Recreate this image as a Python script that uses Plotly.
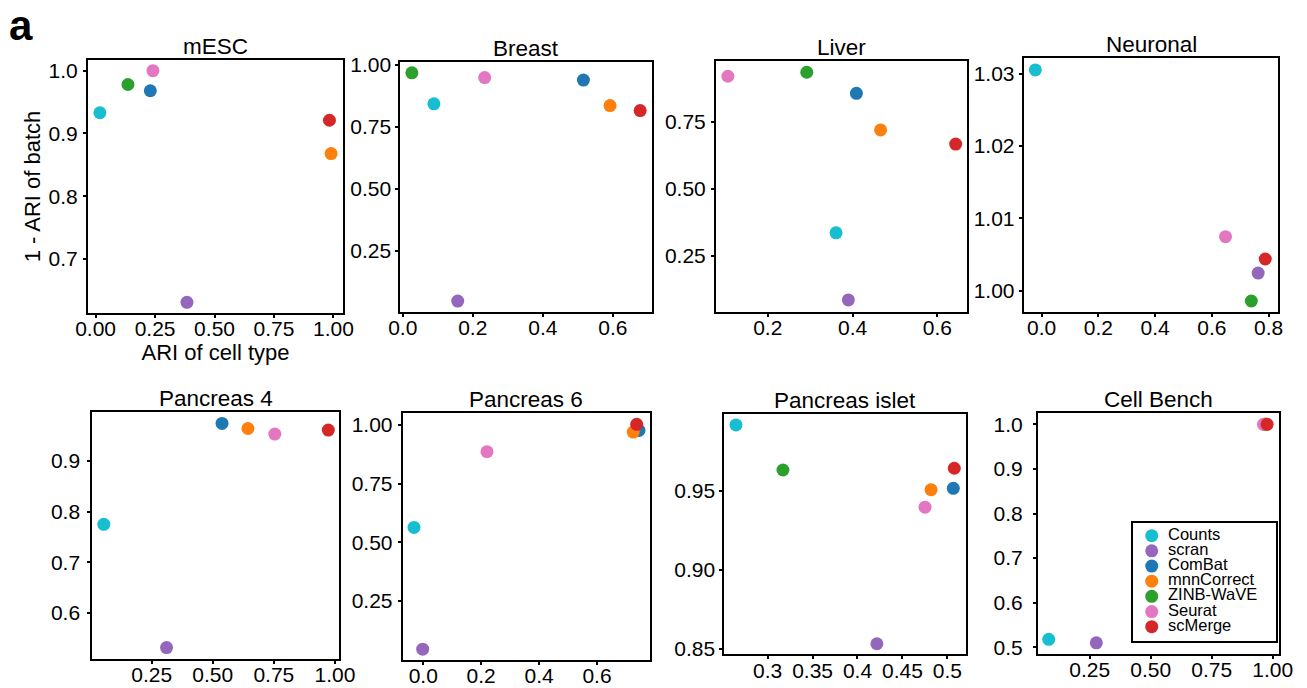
import plotly.graph_objects as go

# ---------------- data ----------------
methods = ["Counts", "scran", "ComBat", "mnnCorrect", "ZINB-WaVE", "Seurat", "scMerge"]
method_colors = ["#17becf", "#9467bd", "#1f77b4", "#ff7f0e", "#2ca02c", "#e377c2", "#d62728"]
datasets = ["mESC", "Breast", "Liver", "Neuronal", "Pancreas 4", "Pancreas 6", "Pancreas islet", "Cell Bench"]

# ARI of cell type (x) and 1 - ARI of batch (y), in method order
mesc_x = [0.018, 0.384, 0.230, 0.990, 0.136, 0.241, 0.983]
mesc_y = [0.933, 0.631, 0.968, 0.868, 0.978, 1.000, 0.921]
breast_x = [0.089, 0.157, 0.516, 0.592, 0.026, 0.234, 0.678]
breast_y = [0.842, 0.047, 0.938, 0.835, 0.967, 0.948, 0.815]
liver_x = [0.361, 0.390, 0.409, 0.466, 0.292, 0.106, 0.643]
liver_y = [0.335, 0.084, 0.857, 0.720, 0.936, 0.921, 0.667]
neuronal_x = [-0.022, 0.763, None, None, 0.739, 0.648, 0.788]
neuronal_y = [1.0305, 1.00244, None, None, 0.99858, 1.00746, 1.00438]
pancreas4_x = [0.054, 0.311, 0.538, 0.644, None, 0.754, 0.973]
pancreas4_y = [0.775, 0.532, 0.974, 0.964, None, 0.953, 0.961]
pancreas6_x = [-0.032, -0.002, 0.745, 0.725, None, 0.220, 0.737]
pancreas6_y = [0.563, 0.043, 0.977, 0.970, None, 0.886, 1.003]
islet_x = [0.2647, 0.4216, 0.5067, 0.4819, 0.317, 0.4752, 0.5078]
islet_y = [0.9919, 0.8531, 0.9517, 0.9508, 0.9633, 0.9397, 0.9644]
cellbench_x = [0.082, 0.277, 0.972, 0.970, 0.968, 0.962, 0.977]
cellbench_y = [0.518, 0.510, 1.000, 1.000, 1.000, 1.000, 1.000]

# tick labels
mesc_xticks = [0.0, 0.25, 0.5, 0.75, 1.0]
mesc_xlabels = ["0.00", "0.25", "0.50", "0.75", "1.00"]
mesc_yticks = [0.7, 0.8, 0.9, 1.0]
mesc_ylabels = ["0.7", "0.8", "0.9", "1.0"]
breast_xticks = [0.0, 0.2, 0.4, 0.6]
breast_xlabels = ["0.0", "0.2", "0.4", "0.6"]
breast_yticks = [0.25, 0.5, 0.75, 1.0]
breast_ylabels = ["0.25", "0.50", "0.75", "1.00"]
liver_xticks = [0.2, 0.4, 0.6]
liver_xlabels = ["0.2", "0.4", "0.6"]
liver_yticks = [0.25, 0.5, 0.75]
liver_ylabels = ["0.25", "0.50", "0.75"]
neuronal_xticks = [0.0, 0.2, 0.4, 0.6, 0.8]
neuronal_xlabels = ["0.0", "0.2", "0.4", "0.6", "0.8"]
neuronal_yticks = [1.00, 1.01, 1.02, 1.03]
neuronal_ylabels = ["1.00", "1.01", "1.02", "1.03"]
pancreas4_xticks = [0.25, 0.5, 0.75, 1.0]
pancreas4_xlabels = ["0.25", "0.50", "0.75", "1.00"]
pancreas4_yticks = [0.6, 0.7, 0.8, 0.9]
pancreas4_ylabels = ["0.6", "0.7", "0.8", "0.9"]
pancreas6_xticks = [0.0, 0.2, 0.4, 0.6]
pancreas6_xlabels = ["0.0", "0.2", "0.4", "0.6"]
pancreas6_yticks = [0.25, 0.5, 0.75, 1.0]
pancreas6_ylabels = ["0.25", "0.50", "0.75", "1.00"]
islet_xticks = [0.3, 0.35, 0.4, 0.45, 0.5]
islet_xlabels = ["0.3", "0.35", "0.4", "0.45", "0.5"]
islet_yticks = [0.85, 0.90, 0.95]
islet_ylabels = ["0.85", "0.90", "0.95"]
cellbench_xticks = [0.25, 0.5, 0.75, 1.0]
cellbench_xlabels = ["0.25", "0.50", "0.75", "1.00"]
cellbench_yticks = [0.5, 0.6, 0.7, 0.8, 0.9, 1.0]
cellbench_ylabels = ["0.5", "0.6", "0.7", "0.8", "0.9", "1.0"]

x_title = "ARI of cell type"
y_title = "1 - ARI of batch"
panel_label = "a"

# ---------------- layout ----------------
W, H = 1307, 688
FONT = "Liberation Sans, Arial, sans-serif"

panels = [
    dict(x=mesc_x, y=mesc_y, xt=mesc_xticks, xl=mesc_xlabels, yt=mesc_yticks, yl=mesc_ylabels,
         box=(88, 343, 60, 313), xr=[-0.032, 1.04], yr=[0.614, 1.017], ygap=1),
    dict(x=breast_x, y=breast_y, xt=breast_xticks, xl=breast_xlabels, yt=breast_yticks, yl=breast_ylabels,
         box=(400.3, 651.7, 61.7, 311.7), xr=[-0.007, 0.711], yr=[0.004, 1.012], ygap=0),
    dict(x=liver_x, y=liver_y, xt=liver_xticks, xl=liver_xlabels, yt=liver_yticks, yl=liver_ylabels,
         box=(716, 966.7, 61, 311.7), xr=[0.078, 0.669], yr=[0.040, 0.978], ygap=1),
    dict(x=neuronal_x, y=neuronal_y, xt=neuronal_xticks, xl=neuronal_xlabels, yt=neuronal_yticks, yl=neuronal_ylabels,
         box=(1023.7, 1278.3, 58.3, 311.7), xr=[-0.063, 0.834], yr=[0.9971, 1.0321], ygap=0),
    dict(x=pancreas4_x, y=pancreas4_y, xt=pancreas4_xticks, xl=pancreas4_xlabels, yt=pancreas4_yticks, yl=pancreas4_ylabels,
         box=(92.3, 339.3, 412.3, 658.7), xr=[0.007, 1.018], yr=[0.510, 0.996], ygap=3),
    dict(x=pancreas6_x, y=pancreas6_y, xt=pancreas6_xticks, xl=pancreas6_xlabels, yt=pancreas6_yticks, yl=pancreas6_ylabels,
         box=(402.7, 650, 413.3, 660), xr=[-0.071, 0.783], yr=[-0.003, 1.050], ygap=1),
    dict(x=islet_x, y=islet_y, xt=islet_xticks, xl=islet_xlabels, yt=islet_yticks, yl=islet_ylabels,
         box=(724.3, 965.7, 413.7, 654.3), xr=[0.2517, 0.5205], yr=[0.8464, 0.999], ygap=0),
    dict(x=cellbench_x, y=cellbench_y, xt=cellbench_xticks, xl=cellbench_xlabels, yt=cellbench_yticks, yl=cellbench_ylabels,
         box=(1038, 1279.3, 412.7, 654), xr=[0.038, 1.027], yr=[0.485, 1.026], ygap=6),
]

fig = go.Figure()
layout = dict(
    width=W, height=H, margin=dict(l=0, r=0, t=0, b=0, autoexpand=False),
    paper_bgcolor="white", plot_bgcolor="white", showlegend=False,
    font=dict(family=FONT, size=21, color="black"),
)
annotations = []

axis_common = dict(
    showgrid=False, zeroline=False, showline=True, linecolor="black", linewidth=2,
    mirror=True, ticks="outside", ticklen=3, tickwidth=1.5, tickcolor="black",
    tickfont=dict(family=FONT, size=21, color="black"), tickmode="array",
    automargin=False,
)

for i, (name, p) in enumerate(zip(datasets, panels)):
    n = i + 1
    xa = "xaxis" if n == 1 else f"xaxis{n}"
    ya = "yaxis" if n == 1 else f"yaxis{n}"
    xref = "x" if n == 1 else f"x{n}"
    yref = "y" if n == 1 else f"y{n}"
    l, r, t, b = p["box"]
    layout[xa] = dict(axis_common, domain=[l / W, r / W], range=p["xr"], anchor=yref,
                      tickvals=p["xt"], ticktext=p["xl"], ticklabelstandoff=-7)
    layout[ya] = dict(axis_common, domain=[1 - b / H, 1 - t / H], range=p["yr"], anchor=xref,
                      tickvals=p["yt"], ticktext=p["yl"], ticklabelstandoff=p["ygap"])
    if n == 1:
        layout[xa]["title"] = dict(text=x_title, font=dict(family=FONT, size=22), standoff=0)
        layout[ya]["title"] = dict(text=y_title, font=dict(family=FONT, size=22), standoff=2)
    fig.add_trace(go.Scatter(
        x=p["x"], y=p["y"], mode="markers", xaxis=xref, yaxis=yref,
        marker=dict(size=13, color=method_colors, line=dict(width=0), opacity=1),
        text=methods, hoverinfo="text+x+y", cliponaxis=False,
    ))
    annotations.append(dict(
        text=name, xref="paper", yref="paper", x=(l + r) / 2 / W, y=1 - t / H,
        xanchor="center", yanchor="bottom", yshift=-1, showarrow=False,
        font=dict(family=FONT, size=22.5, color="black"),
    ))

# legend drawn as an inset axis inside the Cell Bench panel
leg_box = (1133, 1276, 522.7, 640.7)
ll, lr, lt, lb = leg_box
layout["xaxis9"] = dict(domain=[ll / W, lr / W], range=[0, 1], anchor="y9", automargin=False,
                        showgrid=False, zeroline=False, showticklabels=False, ticks="",
                        showline=True, mirror=True, linecolor="black", linewidth=1.5)
layout["yaxis9"] = dict(domain=[1 - lb / H, 1 - lt / H], range=[6.923, -0.857], anchor="x9", automargin=False,
                        showgrid=False, zeroline=False, showticklabels=False, ticks="",
                        showline=True, mirror=True, linecolor="black", linewidth=1.5)
legend_rows = list(range(len(methods)))
fig.add_trace(go.Scatter(
    x=[0.131] * len(methods), y=legend_rows, xaxis="x9", yaxis="y9",
    mode="markers", marker=dict(size=13, color=method_colors, line=dict(width=0)),
    hoverinfo="skip", cliponaxis=False,
))
fig.add_trace(go.Scatter(
    x=[0.245] * len(methods), y=legend_rows, xaxis="x9", yaxis="y9",
    mode="text", text=methods, textposition="middle right",
    textfont=dict(family=FONT, size=16.5, color="black"),
    hoverinfo="skip", cliponaxis=False,
))

annotations.append(dict(
    text=f"<b>{panel_label}</b>", xref="paper", yref="paper", x=7 / W, y=1,
    xanchor="left", yanchor="top", showarrow=False,
    font=dict(family=FONT, size=42, color="black"),
))
layout["annotations"] = annotations
fig.update_layout(**layout)
fig.write_html("out.html")
